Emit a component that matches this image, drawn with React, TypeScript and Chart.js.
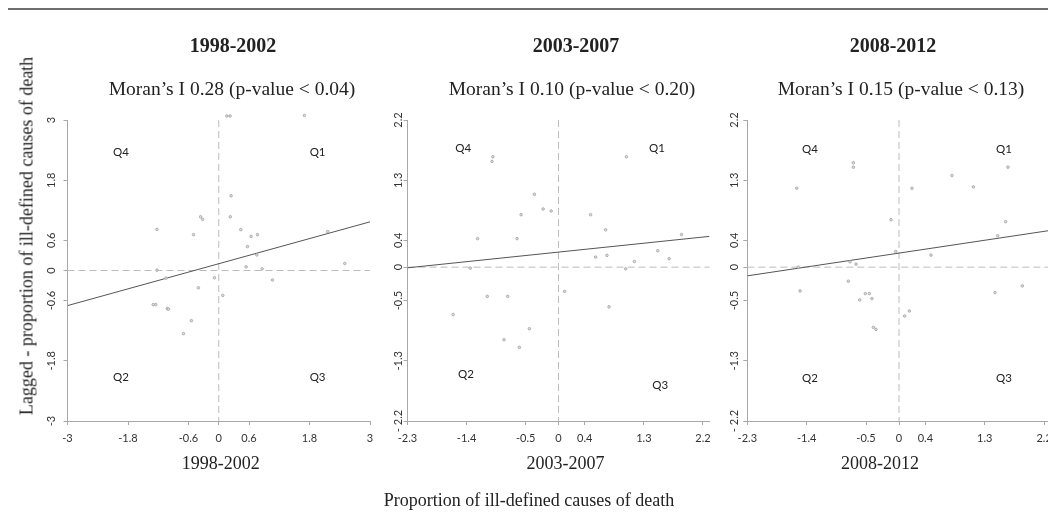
import React, { useEffect, useRef } from "react";
import { Chart, registerables } from "chart.js";

Chart.register(...registerables);

// ---------- data ----------
const periods = ["1998-2002", "2003-2007", "2008-2012"];
const moranLabels = [
  "Moran\u2019s I 0.28 (p-value < 0.04)",
  "Moran\u2019s I 0.10 (p-value < 0.20)",
  "Moran\u2019s I 0.15 (p-value < 0.13)",
];
const yAxisTitle = "Lagged - proportion of ill-defined causes of death";
const xAxisTitle = "Proportion of ill-defined causes of death";
const quadrantNames = ["Q1", "Q2", "Q3", "Q4"];

// Panel 1 (1998-2002)
const p1X = [0.245, 0.23, -0.36, -0.32, -1.225, -0.5, 0.437, 0.642, 0.768, 0.57, 0.755, 2.16, 2.5, 0.543, 0.86, -1.225, -1.046, -0.086, 1.066, -0.404, 0.08, -1.3, -1.25, -1.02, -1.0, -0.543, -0.7, 0.16, 0.225, 1.7];
const p1Y = [1.49, 1.07, 1.07, 1.02, 0.82, 0.715, 0.815, 0.68, 0.715, 0.477, 0.31, 0.775, 0.14, 0.073, 0.033, 0.007, -0.152, -0.146, -0.19, -0.344, -0.497, -0.68, -0.68, -0.76, -0.77, -1.0, -1.258, 3.08, 3.08, 3.09];
const p1LineX = [-3, 3];
const p1LineY = [-0.7, 0.97];
const p1XTicks = [-3, -1.8, -0.6, 0, 0.6, 1.8, 3];
const p1XTickLabels = ["-3", "-1.8", "-0.6", "0", "0.6", "1.8", "3"];
const p1YTicks = [-3, -1.8, -0.6, 0, 0.6, 1.8, 3];
const p1YTickLabels = ["-3", "-1.8", "-0.6", "0", "0.6", "1.8", "3"];
const p1QuadX = [1.96, -1.94, 1.96, -1.94];
const p1QuadY = [2.36, -2.13, -2.13, 2.36];

// Panel 2 (2003-2007)
const p2X = [-1.0, -1.013, 1.034, -0.367, -0.234, -0.112, -0.57, 0.489, -1.232, -0.631, 0.718, 1.874, 1.512, 0.565, 0.738, 1.156, 1.685, 1.023, -1.344, 0.092, -1.085, -0.774, 0.769, -1.604, -0.443, -0.83, -0.596];
const p2Y = [1.65, 1.58, 1.65, 1.09, 0.87, 0.84, 0.784, 0.784, 0.427, 0.427, 0.558, 0.487, 0.246, 0.151, 0.176, 0.085, 0.126, -0.025, -0.015, -0.362, -0.437, -0.437, -0.593, -0.709, -0.92, -1.085, -1.2];
const p2LineX = [-2.3, 2.3];
const p2LineY = [-0.01, 0.46];
const p2XTicks = [-2.3, -1.4, -0.5, 0, 0.4, 1.3, 2.2];
const p2XTickLabels = ["-2.3", "-1.4", "-0.5", "0", "0.4", "1.3", "2.2"];
const p2YTicks = [-2.3, -1.4, -0.5, 0, 0.4, 1.3, 2.2];
const p2YTickLabels = ["- 2.2", "-1.3", "-0.5", "0", "0.4", "1.3", "2.2"];
const p2QuadX = [1.5, -1.41, 1.55, -1.45];
const p2QuadY = [1.78, -1.6, -1.77, 1.78];

// Panel 3 (2008-2012)
const p3X = [-0.692, -0.692, 1.652, 0.803, -1.551, 0.197, 1.127, -0.121, 1.617, 1.496, -0.05, 0.485, -0.743, -0.652, -1.526, -0.768, -1.5, -0.51, -0.45, -0.596, -0.41, 1.455, 1.87, 0.157, 0.086, -0.389, -0.349];
const p3Y = [1.56, 1.495, 1.495, 1.37, 1.18, 1.18, 1.2, 0.71, 0.68, 0.47, 0.235, 0.18, 0.08, 0.045, 0.0, -0.21, -0.355, -0.395, -0.395, -0.49, -0.47, -0.38, -0.28, -0.655, -0.73, -0.9, -0.93];
const p3LineX = [-2.3, 2.3];
const p3LineY = [-0.13, 0.55];
const p3XTicks = [-2.3, -1.4, -0.5, 0, 0.4, 1.3, 2.2];
const p3XTickLabels = ["-2.3", "-1.4", "-0.5", "0", "0.4", "1.3", "2.2"];
const p3YTicks = [-2.3, -1.4, -0.5, 0, 0.4, 1.3, 2.2];
const p3YTickLabels = ["- 2.2", "-1.3", "-0.5", "0", "0.4", "1.3", "2.2"];
const p3QuadX = [1.59, -1.35, 1.59, -1.35];
const p3QuadY = [1.76, -1.66, -1.66, 1.76];

// ---------- layout / style ----------
const H = 520;
const AREA_TOP = 120;
const AREA_BOTTOM = 421;
const XSCALE_H = 60;
const SERIF = "'Liberation Serif', 'Times New Roman', serif";
const SANS = "Lato, 'Open Sans', sans-serif";
const TEXT = "#222";
const AXIS = "#a8a8a8";

const panels = [
  { title: periods[0], subtitle: moranLabels[0], xs: p1X, ys: p1Y, lx: p1LineX, ly: p1LineY, xMin: -3, xMax: 3, yMin: -3, yMax: 3, xTicks: p1XTicks, xLabels: p1XTickLabels, yTicks: p1YTicks, yLabels: p1YTickLabels, qx: p1QuadX, qy: p1QuadY, left: 30, width: 408, areaLeft: 67.5, areaRight: 370, yLabelOff: 16, xTitleOff: 2, titleX: 233, subX: 232 },
  { title: periods[1], subtitle: moranLabels[1], xs: p2X, ys: p2Y, lx: p2LineX, ly: p2LineY, xMin: -2.3, xMax: 2.3, yMin: -2.3, yMax: 2.2, xTicks: p2XTicks, xLabels: p2XTickLabels, yTicks: p2YTicks, yLabels: p2YTickLabels, qx: p2QuadX, qy: p2QuadY, left: 380, width: 388, areaLeft: 407.5, areaRight: 709.5, yLabelOff: 9, xTitleOff: 7, titleX: 576, subX: 572 },
  { title: periods[2], subtitle: moranLabels[2], xs: p3X, ys: p3Y, lx: p3LineX, ly: p3LineY, xMin: -2.3, xMax: 2.3, yMin: -2.3, yMax: 2.2, xTicks: p3XTicks, xLabels: p3XTickLabels, yTicks: p3YTicks, yLabels: p3YTickLabels, qx: p3QuadX, qy: p3QuadY, left: 725, width: 344, areaLeft: 747.3, areaRight: 1050.7, yLabelOff: 13, xTitleOff: -19, titleX: 893, subX: 901 },
];

const overlayPlugin = {
  id: "overlay",
  beforeDatasetsDraw(chart: any) {
    const { ctx, chartArea: a } = chart;
    const x = chart.scales.x;
    const y = chart.scales.y;
    const x0 = x.getPixelForValue(0);
    const y0 = y.getPixelForValue(0);
    ctx.save();
    ctx.strokeStyle = "#bcbcbc";
    ctx.lineWidth = 1;
    ctx.setLineDash([7, 4]);
    ctx.beginPath();
    ctx.moveTo(a.left, y0);
    ctx.lineTo(a.right, y0);
    ctx.moveTo(x0, a.top);
    ctx.lineTo(x0, a.bottom);
    ctx.stroke();
    ctx.restore();
  },
  afterDraw(chart: any, _args: any, opts: any) {
    const { ctx, chartArea: a } = chart;
    const x = chart.scales.x;
    const y = chart.scales.y;
    const left = opts.canvasLeft;
    ctx.save();
    ctx.textAlign = "center";
    ctx.textBaseline = "middle";
    // headings
    ctx.fillStyle = TEXT;
    ctx.font = `bold 20px ${SERIF}`;
    ctx.fillText(opts.title, opts.titleX - left, 46.5);
    ctx.font = `19.5px ${SERIF}`;
    ctx.fillText(opts.subtitle, opts.subX - left, 90);
    // rotated y tick labels
    ctx.fillStyle = "#333";
    ctx.font = `11px ${SANS}`;
    (opts.yTicks as number[]).forEach((v: number, i: number) => {
      const py = y.getPixelForValue(v);
      ctx.save();
      ctx.translate(a.left - opts.yLabelOff, py);
      ctx.rotate(-Math.PI / 2);
      ctx.fillText(opts.yLabels[i], 0, 0);
      ctx.restore();
    });
    // quadrant labels
    ctx.fillStyle = TEXT;
    ctx.font = `11.5px ${SANS}`;
    (opts.qx as number[]).forEach((qv: number, i: number) => {
      ctx.fillText(opts.qNames[i], x.getPixelForValue(qv), y.getPixelForValue(opts.qy[i]));
    });
    // period label under the x axis
    ctx.font = `18px ${SERIF}`;
    ctx.fillText(opts.title, (a.left + a.right) / 2 + opts.xTitleOff, 464);
    ctx.restore();
  },
};

export default function App() {
  const refs = [useRef<HTMLCanvasElement>(null), useRef<HTMLCanvasElement>(null), useRef<HTMLCanvasElement>(null)];

  useEffect(() => {
    const charts: Chart[] = [];
    panels.forEach((p, idx) => {
      const canvas = refs[idx].current;
      if (!canvas) return;
      const chart = new Chart(canvas, {
        type: "scatter",
        data: {
          datasets: [
            {
              type: "line",
              data: p.lx.map((v, i) => ({ x: v, y: p.ly[i] })),
              borderColor: "#555",
              borderWidth: 1,
              pointRadius: 0,
              showLine: true,
              fill: false,
              order: 2,
            } as any,
            {
              data: p.xs.map((v, i) => ({ x: v, y: p.ys[i] })),
              pointRadius: 1.3,
              pointBackgroundColor: "#dcdcdc",
              pointBorderColor: "#9a9a9a",
              pointBorderWidth: 0.7,
              clip: false,
              order: 1,
            } as any,
          ],
        },
        options: {
          animation: false,
          responsive: false,
          events: [],
          layout: {
            padding: {
              left: 0,
              right: p.width - (p.areaRight - p.left),
              top: AREA_TOP,
              bottom: H - AREA_BOTTOM - XSCALE_H,
            },
          },
          plugins: {
            legend: { display: false },
            tooltip: { enabled: false },
            title: { display: false },
            overlay: {
              canvasLeft: p.left,
              title: p.title,
              subtitle: p.subtitle,
              titleX: p.titleX,
              subX: p.subX,
              yTicks: p.yTicks,
              yLabels: p.yLabels,
              yLabelOff: p.yLabelOff,
              qx: p.qx,
              qy: p.qy,
              qNames: quadrantNames,
              xTitleOff: p.xTitleOff,
            },
          } as any,
          scales: {
            x: {
              type: "linear",
              min: p.xMin,
              max: p.xMax,
              afterBuildTicks: (s: any) => {
                s.ticks = p.xTicks.map((v) => ({ value: v }));
              },
              afterFit: (s: any) => {
                s.height = XSCALE_H;
              },
              ticks: {
                autoSkip: false,
                maxRotation: 0,
                padding: 6.7,
                color: "#333",
                font: { family: SANS, size: 11 },
                callback: (v: any) => {
                  const i = p.xTicks.indexOf(Number(v));
                  return i >= 0 ? p.xLabels[i] : "";
                },
              },
              grid: { drawOnChartArea: false, drawTicks: true, tickLength: 4, color: AXIS },
              border: { display: true, color: AXIS },
            },
            y: {
              type: "linear",
              min: p.yMin,
              max: p.yMax,
              afterBuildTicks: (s: any) => {
                s.ticks = p.yTicks.map((v) => ({ value: v }));
              },
              afterFit: (s: any) => {
                s.width = p.areaLeft - p.left;
              },
              ticks: { display: false },
              grid: { drawOnChartArea: false, drawTicks: true, tickLength: 4, color: AXIS },
              border: { display: true, color: AXIS },
            },
          },
        },
        plugins: [overlayPlugin],
      } as any);
      charts.push(chart);
    });
    return () => charts.forEach((c) => c.destroy());
  }, []);

  return (
    <div
      style={{
        position: "fixed",
        left: 0,
        top: 0,
        width: 1048,
        height: H,
        overflow: "hidden",
        background: "#fff",
      }}
    >
      <div style={{ position: "absolute", left: 8, right: 0, top: 8, height: 1.5, background: "#6e6e6e" }} />
      {panels.map((p, i) => (
        <canvas
          key={i}
          ref={refs[i]}
          width={p.width}
          height={H}
          style={{ position: "absolute", left: p.left, top: 0, width: p.width, height: H }}
        />
      ))}
      <div
        style={{
          position: "absolute",
          left: 27,
          top: 236,
          transform: "translate(-50%, -50%) rotate(-90deg)",
          whiteSpace: "nowrap",
          fontFamily: SERIF,
          fontSize: 18,
          color: TEXT,
        }}
      >
        {yAxisTitle}
      </div>
      <div
        style={{
          position: "absolute",
          left: 529,
          top: 500,
          transform: "translate(-50%, -50%)",
          whiteSpace: "nowrap",
          fontFamily: SERIF,
          fontSize: 18,
          color: TEXT,
        }}
      >
        {xAxisTitle}
      </div>
    </div>
  );
}
